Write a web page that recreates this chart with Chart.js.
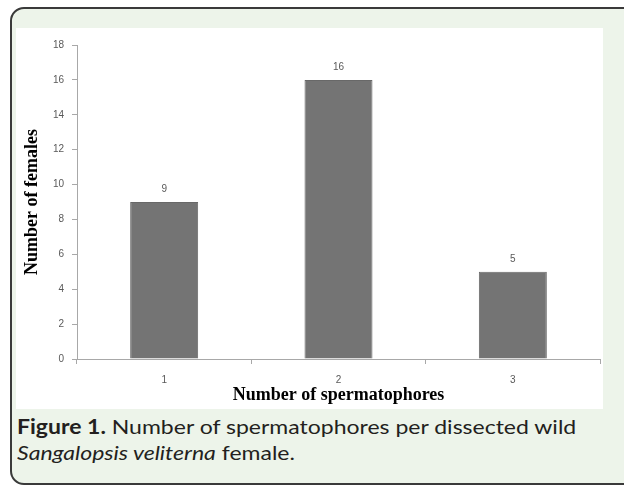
<!DOCTYPE html>
<html>
<head>
<meta charset="utf-8">
<script src="https://cdn.jsdelivr.net/npm/chart.js@4"></script>
<style>
  html, body { margin: 0; padding: 0; background: #fff; }
  body { width: 624px; height: 485px; position: relative; overflow: hidden; }
  .box {
    position: absolute; left: 10px; top: 7px; width: 660px; height: 474px;
    background: #edf4ea; border: 2px solid #3a3a3a; border-radius: 14px;
  }
  #chartWrap {
    position: absolute; left: 16px; top: 28px; width: 587px; height: 381px; background: #fff;
  }
  .caption {
    position: absolute; left: 17px; top: 413px; width: 560px;
    font-family: Lato, "Noto Sans", sans-serif; font-size: 20px; line-height: 26px;
    color: #231f20; white-space: nowrap;
    transform: scaleX(1.15); transform-origin: left top;
  }
  .caption b { font-weight: bold; }
</style>
</head>
<body>
<div class="box"></div>
<div id="chartWrap"><canvas id="myBarChart" width="587" height="381"></canvas></div>
<div class="caption"><b>Figure 1.</b> Number of spermatophores per dissected wild<br><i>Sangalopsis veliterna</i> female.</div>
<script>
const spermatophores = ['1', '2', '3'];
const females = [9, 16, 5];
const yTicks = [0, 2, 4, 6, 8, 10, 12, 14, 16, 18];

const ctx = document.getElementById('myBarChart').getContext('2d');

// numbers above the bars
const valueLabels = {
    id: 'valueLabels',
    afterDatasetsDraw(chart) {
        const c = chart.ctx;
        const meta = chart.getDatasetMeta(0);
        c.save();
        c.font = '10px "Liberation Sans", Arial, sans-serif';
        c.fillStyle = '#595959';
        c.textAlign = 'center';
        c.textBaseline = 'middle';
        meta.data.forEach((bar, i) => {
            c.fillText(String(females[i]), bar.x, bar.y - 13);
        });
        c.restore();
    }
};

const data = {
    labels: spermatophores,
    datasets: [{
        data: females,
        backgroundColor: '#747474',
        borderColor: '#686868',
        borderWidth: 1,
        categoryPercentage: 1,
        barPercentage: 0.39
    }]
};

const config = {
    type: 'bar',
    data: data,
    plugins: [valueLabels],
    options: {
        responsive: false,
        animation: false,
        layout: { padding: { top: 17, right: 3, left: 0, bottom: 0 } },
        plugins: {
            legend: { display: false },
            tooltip: { enabled: false }
        },
        scales: {
            x: {
                afterFit: function(scale) { scale.height = 50; },
                grid: { drawOnChartArea: false, drawTicks: true, tickLength: 5, color: '#a8a8a8' },
                border: { color: '#a8a8a8' },
                ticks: {
                    padding: 10,
                    color: '#595959',
                    font: { family: '"Liberation Sans", Arial, sans-serif', size: 10 }
                },
                title: {
                    display: true,
                    text: 'Number of spermatophores',
                    color: '#000',
                    padding: { top: 0, bottom: 3 },
                    font: { family: '"Liberation Serif", "Times New Roman", serif', size: 18, weight: 'bold' }
                }
            },
            y: {
                min: 0,
                max: 18,
                afterFit: function(scale) { scale.width = 61; },
                afterBuildTicks: function(scale) {
                    scale.ticks = yTicks.map(v => ({ value: v }));
                },
                grid: { drawOnChartArea: false, drawTicks: true, tickLength: 5, color: '#a8a8a8' },
                border: { color: '#a8a8a8' },
                ticks: {
                    padding: 8,
                    color: '#595959',
                    font: { family: '"Liberation Sans", Arial, sans-serif', size: 10 }
                },
                title: {
                    display: true,
                    text: 'Number of females',
                    color: '#000',
                    padding: { top: 6, bottom: 0 },
                    font: { family: '"Liberation Serif", "Times New Roman", serif', size: 18, weight: 'bold' }
                }
            }
        }
    }
};

new Chart(ctx, config);
</script>
</body>
</html>
